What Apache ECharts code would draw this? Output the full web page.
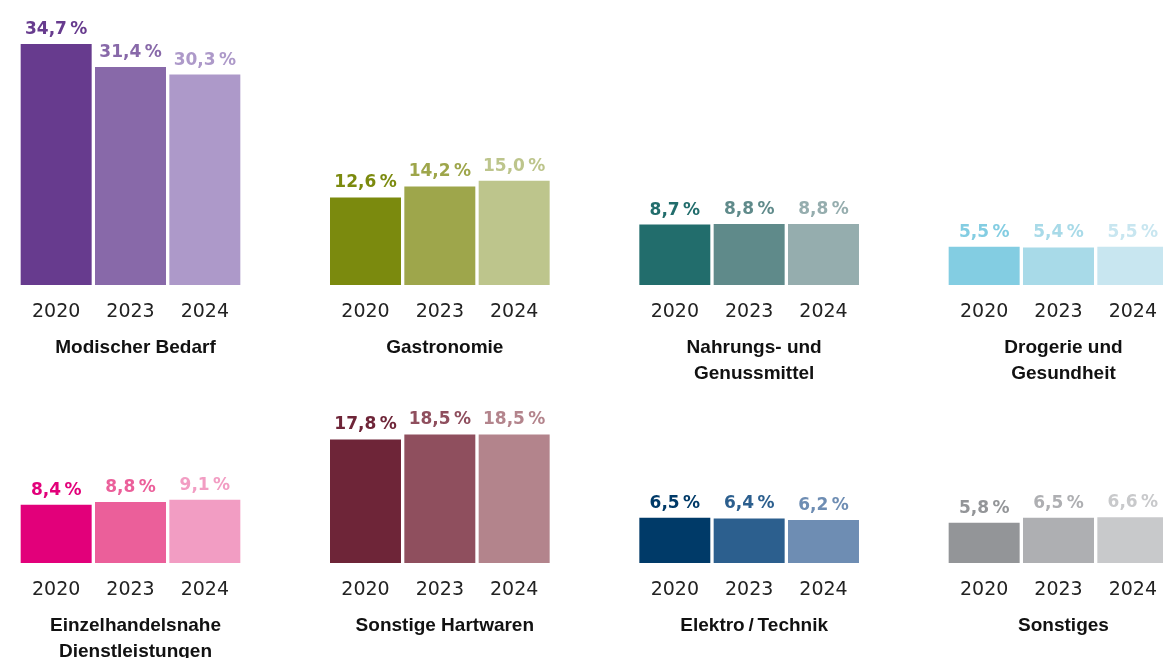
<!DOCTYPE html>
<html>
<head>
<meta charset="utf-8">
<script src="https://cdn.jsdelivr.net/npm/echarts@6/dist/echarts.min.js"></script>
<style>html,body{margin:0;padding:0;background:#fff}#c{width:1163px;height:658px}</style>
</head>
<body>
<div id="c"></div>
<script>
const years = ['2020', '2023', '2024'];
const titles = ['Modischer Bedarf', 'Gastronomie', 'Nahrungs- und\nGenussmittel', 'Drogerie und\nGesundheit',
                'Einzelhandelsnahe\nDienstleistungen', 'Sonstige Hartwaren', 'Elektro\u2009/\u2009Technik', 'Sonstiges'];
const modischerBedarf = [34.7, 31.4, 30.3];
const gastronomie = [12.6, 14.2, 15.0];
const nahrungsmittel = [8.7, 8.8, 8.8];
const drogerie = [5.5, 5.4, 5.5];
const dienstleistungen = [8.4, 8.8, 9.1];
const hartwaren = [17.8, 18.5, 18.5];
const elektro = [6.5, 6.4, 6.2];
const sonstiges = [5.8, 6.5, 6.6];
const allValues = [modischerBedarf, gastronomie, nahrungsmittel, drogerie, dienstleistungen, hartwaren, elektro, sonstiges];
const palettes = [
  ['#673b8e', '#8869a9', '#ad99c9'],
  ['#7b8a0e', '#9ea64b', '#bdc58c'],
  ['#226d6c', '#5f8a8a', '#95adae'],
  ['#83cde2', '#a8dae8', '#c8e6f0'],
  ['#e2007a', '#eb5f9a', '#f29dc3'],
  ['#6e2538', '#8f4f5e', '#b3848c'],
  ['#003a68', '#2c5f8e', '#6e8db3'],
  ['#939598', '#aeafb2', '#c8c9cb']
];

const YMAX = 36, GH = 250, GW = 223, STEP = 309.33, LEFT0 = 19;
const baselines = [285, 563];
const grid = [], xAxis = [], yAxis = [], series = [], title = [];
allValues.forEach((vals, i) => {
  const col = i % 4, row = Math.floor(i / 4);
  const left = LEFT0 + STEP * col;
  grid.push({left: left, width: GW, top: baselines[row] - GH, height: GH, outerBoundsMode: 'none', containLabel: false});
  xAxis.push({type: 'category', gridIndex: i, data: years, axisLine: {show: false}, axisTick: {show: false},
    axisLabel: {margin: 18, fontFamily: 'DejaVu Sans', fontSize: 19, color: '#222'}});
  yAxis.push({type: 'value', gridIndex: i, min: 0, max: YMAX, show: false, splitLine: {show: false}});
  series.push({type: 'bar', xAxisIndex: i, yAxisIndex: i, barCategoryGap: '4.5%',
    data: vals.map((v, j) => ({value: v, itemStyle: {color: palettes[i][j]},
      label: {color: palettes[i][j]}})),
    label: {show: true, position: 'top', distance: 6, fontFamily: 'DejaVu Sans', fontWeight: 'bold', fontSize: 17,
      formatter: p => p.value.toFixed(1).replace('.', ',') + '\u2009%'}});
  title.push({text: titles[i], left: left + GW / 2, top: baselines[row] + 45, textAlign: 'center',
    textStyle: {fontFamily: 'Liberation Sans', fontWeight: 'bold', fontSize: 19, color: '#111', lineHeight: 26}});
});

const chart = echarts.init(document.getElementById('c'), null, {renderer: 'canvas'});
chart.setOption({animation: false, title, grid, xAxis, yAxis, series});
</script>
</body>
</html>
